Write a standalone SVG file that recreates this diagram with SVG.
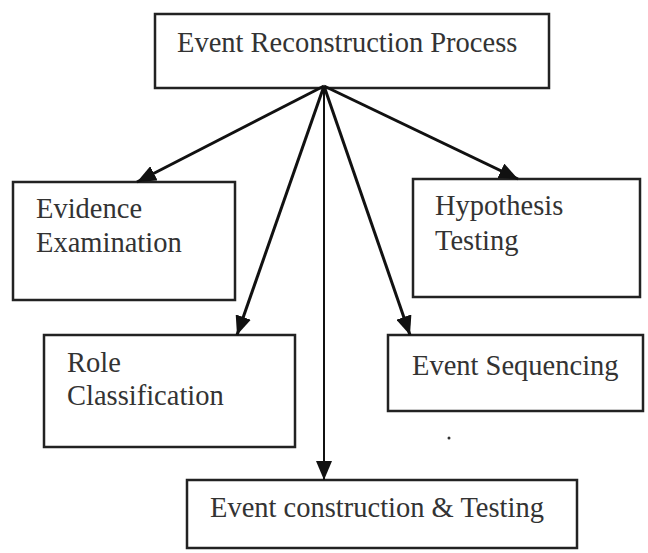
<svg xmlns="http://www.w3.org/2000/svg" width="648" height="553" viewBox="0 0 648 553">
<style>
.box{fill:#fff;stroke:#222;stroke-width:2.5}
.lbl{font-family:'Liberation Serif','Times New Roman',Times,serif;font-size:28.5px;fill:#333}
.conn{stroke:#111;stroke-width:3;fill:none}
</style>
<defs>
<marker id="ah" markerUnits="userSpaceOnUse" markerWidth="20" markerHeight="16" refX="19" refY="8" orient="auto">
<path d="M0,0 L19,8 L0,16 Z" fill="#111"/>
</marker>
</defs>
<rect width="648" height="553" fill="#fff"/>
<g id="n-top"><rect class="box" x="155" y="14" width="394" height="74"/><text class="lbl" x="177" y="52">Event Reconstruction Process</text></g>
<g id="n-evidence"><rect class="box" x="13" y="182" width="222" height="118"/><text class="lbl" x="36" y="218">Evidence</text><text class="lbl" x="36" y="252">Examination</text></g>
<g id="n-hypothesis"><rect class="box" x="413" y="179" width="227" height="118"/><text class="lbl" x="435" y="215">Hypothesis</text><text class="lbl" x="435" y="250">Testing</text></g>
<g id="n-role"><rect class="box" x="44" y="335" width="251" height="112"/><text class="lbl" x="67" y="372">Role</text><text class="lbl" x="67" y="405">Classification</text></g>
<g id="n-sequencing"><rect class="box" x="388" y="335" width="255" height="76"/><text class="lbl" x="412" y="375">Event Sequencing</text></g>
<g id="n-construction"><rect class="box" x="187" y="480" width="390" height="68"/><text class="lbl" x="210" y="517">Event construction &amp; Testing</text></g>
<circle cx="449" cy="438" r="1.5" fill="#333"/>
<g id="connectors">
<line class="conn" x1="324" y1="86" x2="137" y2="182" marker-end="url(#ah)"/>
<line class="conn" x1="324" y1="86" x2="518" y2="179" marker-end="url(#ah)"/>
<line class="conn" x1="324" y1="86" x2="237" y2="335" marker-end="url(#ah)"/>
<line class="conn" x1="324" y1="86" x2="410" y2="335" marker-end="url(#ah)"/>
<line class="conn" x1="324" y1="86" x2="324" y2="480" marker-end="url(#ah)" style="stroke-width:2"/>
</g>
</svg>
